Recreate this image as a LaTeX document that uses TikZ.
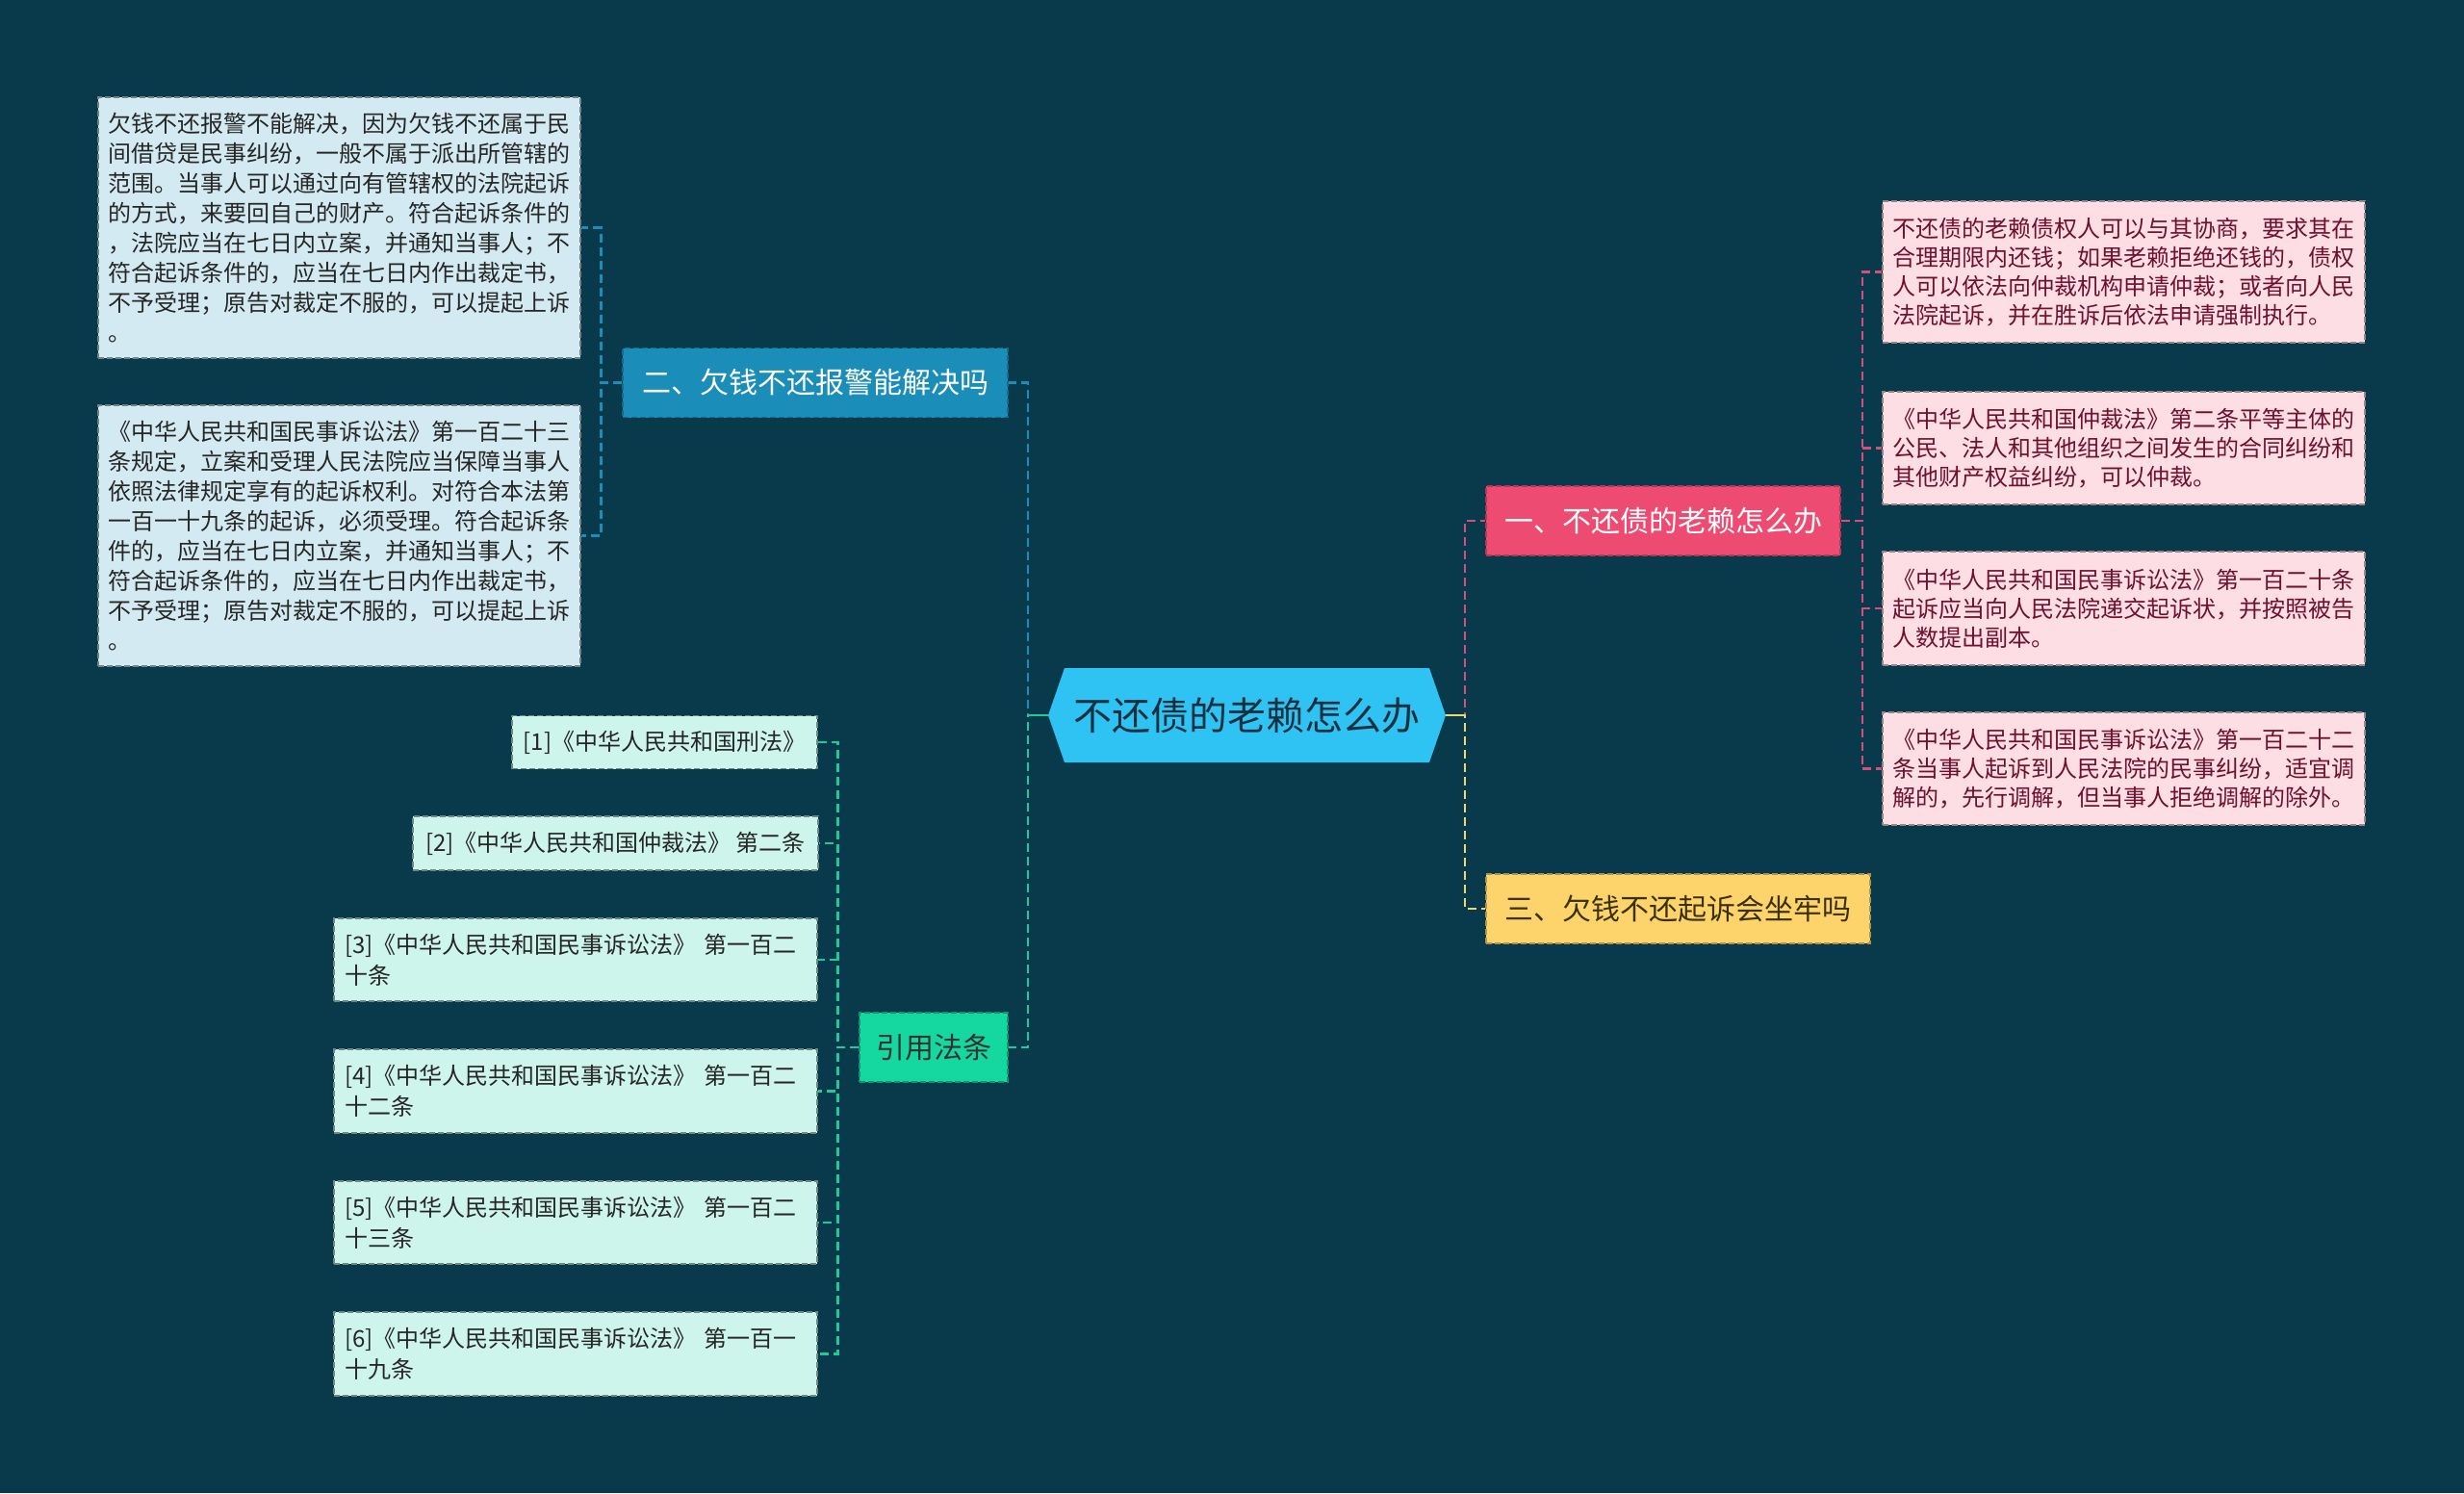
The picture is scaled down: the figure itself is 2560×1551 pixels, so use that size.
\documentclass[tikz,border=0pt]{standalone}
\usepackage{fontspec}
\setmainfont{Noto Sans CJK SC}
\usetikzlibrary{calc}
\definecolor{bgc}{HTML}{083A4C}
\definecolor{rootc}{HTML}{2EC3F2}
\definecolor{roottxt}{HTML}{173040}
\definecolor{bluen}{HTML}{1B8DB9}
\definecolor{bluech}{HTML}{D3EAF2}
\definecolor{pinkn}{HTML}{EE4B72}
\definecolor{pinkch}{HTML}{FCDEE4}
\definecolor{pinktxt}{HTML}{6E1030}
\definecolor{yellown}{HTML}{FDD46B}
\definecolor{yellowtxt}{HTML}{3B3000}
\definecolor{greenn}{HTML}{14D89F}
\definecolor{greench}{HTML}{CDF5EB}
\definecolor{bluel}{HTML}{1B8DB9}
\definecolor{greenl}{HTML}{1ECA9A}
\definecolor{pinkl}{HTML}{D4507B}
\definecolor{yellowl}{HTML}{F3D570}
\begin{document}
\begin{tikzpicture}[x=1pt,y=-1pt,
  boxb/.style={rectangle, line width=1.5pt, dash pattern=on 6pt off 3pt, inner sep=0pt},
  branch/.style={boxb, font=\fontsize{30}{36}\selectfont, minimum height=72pt},
  leaf/.style={boxb, text width=480pt, align=left, minimum width=501pt},
  bleaf/.style={leaf, fill=bluech, draw=bluech!55!black, text=black!85, font=\fontsize{24}{31}\selectfont},
  pleaf/.style={leaf, fill=pinkch, draw=pinkch!60!black, text=pinktxt, font=\fontsize{24}{30}\selectfont},
  gleaf/.style={boxb, fill=greench, draw=greench!55!black, text=black!85, font=\fontsize{24}{32}\selectfont},
  conn/.style={line width=2.5pt, dash pattern=on 9pt off 5pt}]
\fill[bgc] (0,0) rectangle (2560,1551);
\useasboundingbox (0,0) rectangle (2560,1551);

% root hexagon
\fill[rootc] (1089,743) -- (1106,694) -- (1485,694) -- (1502,743) -- (1485,792) -- (1106,792) -- cycle;
\node[rectangle, inner sep=0pt, minimum width=413pt, minimum height=98pt, text=roottxt, font=\fontsize{40}{46}\selectfont] (root) at (1295.5,743) {不还债的老赖怎么办};

% branches
\node[branch, fill=bluen, draw=bluen!75!black, text=white, minimum width=400pt] (n2) at (847,397.5) {二、欠钱不还报警能解决吗};
\node[branch, fill=pinkn, draw=pinkn!75!black, text=white, minimum width=368pt] (n1) at (1728,541) {一、不还债的老赖怎么办};
\node[branch, fill=yellown, draw=yellown!70!black, text=yellowtxt, minimum width=399pt] (n3) at (1743.5,944) {三、欠钱不还起诉会坐牢吗};
\node[branch, fill=greenn, draw=greenn!70!black, text=black!80, minimum width=154pt] (n4) at (970,1088) {引用法条};

% blue leaves
\node[bleaf, minimum height=271pt] (b1) at (352.5,236.5) {欠钱不还报警不能解决，因为欠钱不还属于民\\间借贷是民事纠纷，一般不属于派出所管辖的\\范围。当事人可以通过向有管辖权的法院起诉\\的方式，来要回自己的财产。符合起诉条件的\\，法院应当在七日内立案，并通知当事人；不\\符合起诉条件的，应当在七日内作出裁定书，\\不予受理；原告对裁定不服的，可以提起上诉\\。};
\node[bleaf, minimum height=271pt] (b2) at (352.5,556.5) {《中华人民共和国民事诉讼法》第一百二十三\\条规定，立案和受理人民法院应当保障当事人\\依照法律规定享有的起诉权利。对符合本法第\\一百一十九条的起诉，必须受理。符合起诉条\\件的，应当在七日内立案，并通知当事人；不\\符合起诉条件的，应当在七日内作出裁定书，\\不予受理；原告对裁定不服的，可以提起上诉\\。};

% pink leaves
\node[pleaf, minimum height=147pt] (p1) at (2206.5,282.5) {不还债的老赖债权人可以与其协商，要求其在\\合理期限内还钱；如果老赖拒绝还钱的，债权\\人可以依法向仲裁机构申请仲裁；或者向人民\\法院起诉，并在胜诉后依法申请强制执行。};
\node[pleaf, minimum height=117pt] (p2) at (2206.5,465.5) {《中华人民共和国仲裁法》第二条平等主体的\\公民、法人和其他组织之间发生的合同纠纷和\\其他财产权益纠纷，可以仲裁。};
\node[pleaf, minimum height=118pt] (p3) at (2206.5,632) {《中华人民共和国民事诉讼法》第一百二十条\\起诉应当向人民法院递交起诉状，并按照被告\\人数提出副本。};
\node[pleaf, minimum height=117pt] (p4) at (2206.5,798.5) {《中华人民共和国民事诉讼法》第一百二十二\\条当事人起诉到人民法院的民事纠纷，适宜调\\解的，先行调解，但当事人拒绝调解的除外。};

% green leaves
\node[gleaf, minimum width=317pt, minimum height=55pt] (g1) at (690.5,771) {[1]《中华人民共和国刑法》};
\node[gleaf, minimum width=421pt, minimum height=56pt] (g2) at (639.5,876) {[2]《中华人民共和国仲裁法》 第二条};
\node[gleaf, text width=480pt, align=left, minimum width=502pt, minimum height=86pt] (g3) at (598,997) {[3]《中华人民共和国民事诉讼法》 第一百二\\十条};
\node[gleaf, text width=480pt, align=left, minimum width=502pt, minimum height=87pt] (g4) at (598,1133.5) {[4]《中华人民共和国民事诉讼法》 第一百二\\十二条};
\node[gleaf, text width=480pt, align=left, minimum width=502pt, minimum height=86pt] (g5) at (598,1270) {[5]《中华人民共和国民事诉讼法》 第一百二\\十三条};
\node[gleaf, text width=480pt, align=left, minimum width=502pt, minimum height=87pt] (g6) at (598,1406.5) {[6]《中华人民共和国民事诉讼法》 第一百一\\十九条};

% root connectors
\draw[conn, bluel] (root.west) -- ++(-21,0) |- (n2.east);
\draw[conn, greenl] (root.west) -- ++(-21,0) |- (n4.east);
\draw[line width=2.5pt, greenl] (root.west) -- ++(-21,0);
\draw[conn, pinkl] (root.east) -- ++(20,0) |- (n1.west);
\draw[conn, yellowl] (root.east) -- ++(20,0) |- (n3.west);
\draw[line width=2.5pt, yellowl] (root.east) -- ++(20,0);

% blue children
\foreach \c in {b1,b2} \draw[conn, bluel] (n2.west) -- ++(-22,0) |- (\c.east);
% pink children
\foreach \c in {p1,p2,p3,p4} \draw[conn, pinkl] (n1.east) -- ++(22,0) |- (\c.west);
% green children
\foreach \c in {g1,g2,g3,g4,g5,g6} \draw[conn, greenl] (n4.west) -- ++(-22,0) |- (\c.east);
\end{tikzpicture}
\end{document}
